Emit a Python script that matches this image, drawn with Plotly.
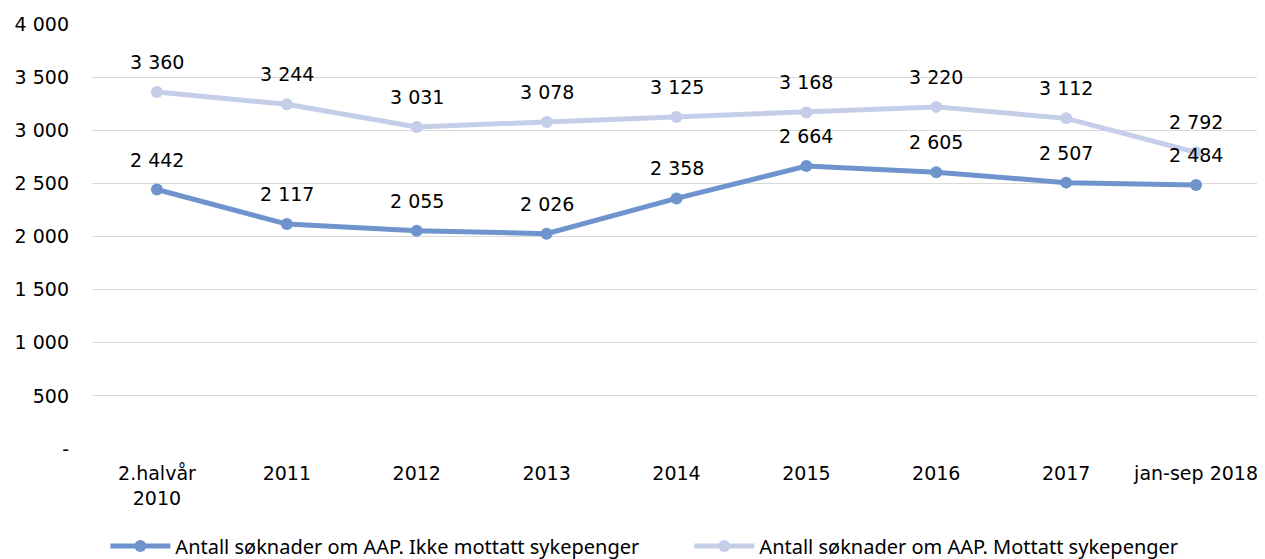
import plotly.graph_objects as go

categories = ["2.halvår<br>2010", "2011", "2012", "2013", "2014", "2015", "2016", "2017", "jan-sep 2018"]
ikke_mottatt = [2442, 2117, 2055, 2026, 2358, 2664, 2605, 2507, 2484]
mottatt = [3360, 3244, 3031, 3078, 3125, 3168, 3220, 3112, 2792]
series_names = ["Antall søknader om AAP. Ikke mottatt sykepenger",
                "Antall søknader om AAP. Mottatt sykepenger"]
y_ticks = [0, 500, 1000, 1500, 2000, 2500, 3000, 3500, 4000]
y_ticklabels = ["-", "500", "1 000", "1 500", "2 000", "2 500", "3 000", "3 500", "4 000"]

dark = "#6f94cd"
light = "#c5cee9"
FONT = "DejaVu Sans, Verdana, sans-serif"
FS = 19

def fmt(v):
    return f"{v:,}".replace(",", " ")

fig = go.Figure()
fig.add_trace(go.Scatter(x=categories, y=ikke_mottatt, name=series_names[0], mode="lines+markers",
                         line=dict(color=dark, width=5), marker=dict(size=12, color=dark)))
fig.add_trace(go.Scatter(x=categories, y=mottatt, name=series_names[1], mode="lines+markers",
                         line=dict(color=light, width=5), marker=dict(size=12, color=light)))

annotations = []
for series in (mottatt, ikke_mottatt):
    for i, v in enumerate(series):
        annotations.append(dict(x=i, y=v, xref="x", yref="y", text=fmt(v), showarrow=False, yshift=30,
                                font=dict(family=FONT, size=FS, color="#000")))

fig.update_layout(
    width=1265, height=559,
    margin=dict(l=84, r=12, t=16, b=118, autoexpand=False),
    paper_bgcolor="white", plot_bgcolor="white",
    font=dict(family=FONT, size=FS, color="#000"),
    showlegend=True,
    legend=dict(orientation="h", x=0.511, xanchor="center", y=-0.228, yanchor="middle",
                font=dict(family="Noto Sans", size=20), itemwidth=60, entrywidth=509,
                traceorder="normal"),
    annotations=annotations,
)
fig.update_xaxes(type="category", range=[-0.5, len(categories) - 0.5], autorange=False,
                 showgrid=False, showline=False, ticks="", tickfont=dict(size=FS),
                 ticklabelstandoff=11)
fig.update_yaxes(range=[0, 4000], tickvals=y_ticks, ticktext=y_ticklabels, showgrid=True,
                 gridcolor="#d9d9d9", gridwidth=1, zeroline=False, ticks="",
                 tickfont=dict(size=FS), ticklabelstandoff=22)

fig.write_html("out.html")
